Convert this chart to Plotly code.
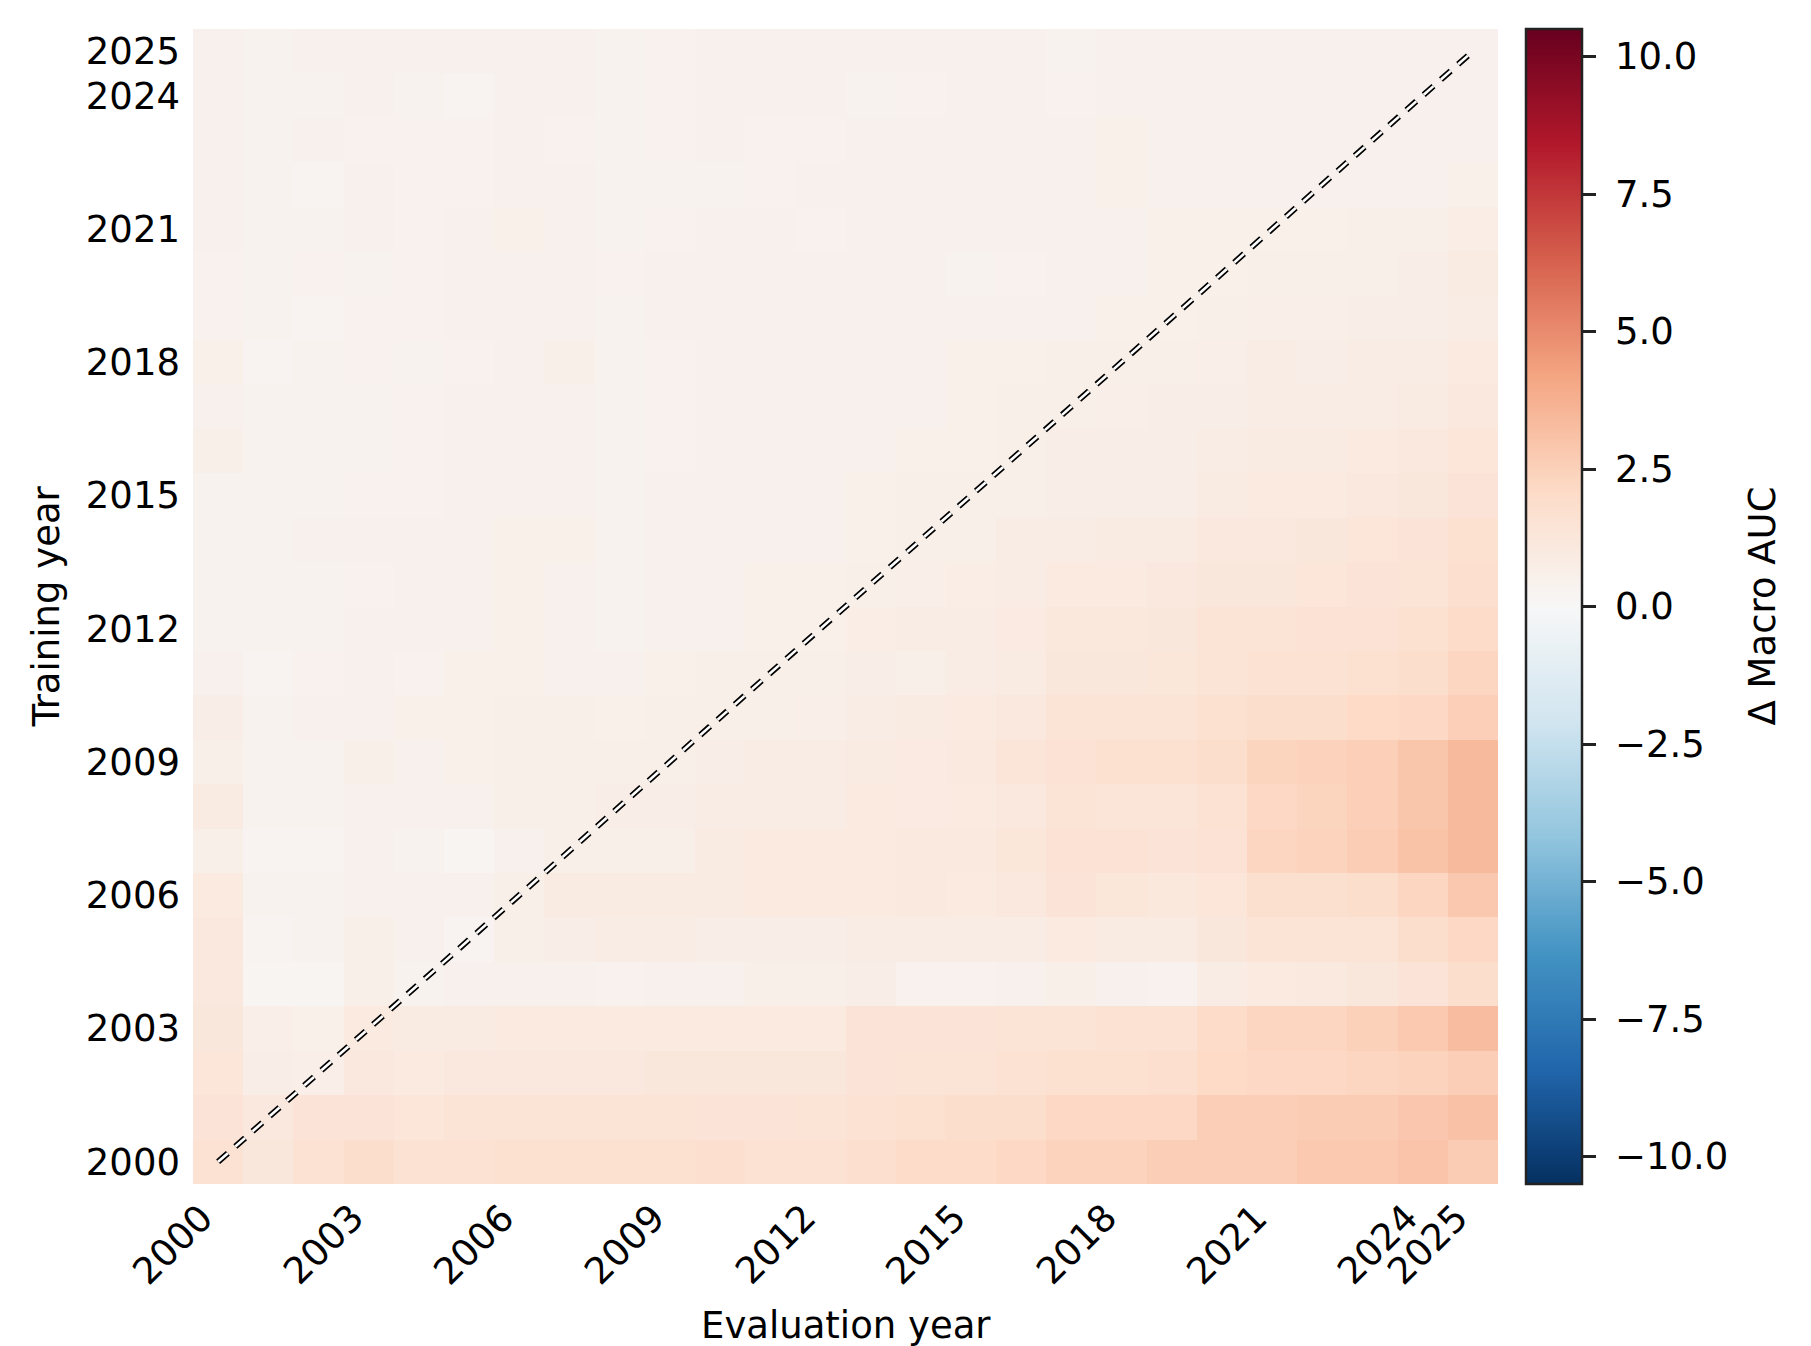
import plotly.graph_objects as go

# Training years (rows, bottom -> top) and evaluation years (columns, left -> right)
train_years = list(range(2000, 2026))
eval_years = list(range(2000, 2026))
tick_years = [2000, 2003, 2006, 2009, 2012, 2015, 2018, 2021, 2024, 2025]
cbar_ticks = [-10, -7.5, -5, -2.5, 0, 2.5, 5, 7.5, 10]
cbar_labels = ["−10.0", "−7.5", "−5.0", "−2.5", "0.0", "2.5", "5.0", "7.5", "10.0"]

# Delta macro AUC, one row per training year (2000 ... 2025), columns = evaluation years 2000 ... 2025
row_2000 = [1.6, 1.2, 1.6, 1.9, 1.6, 1.6, 1.65, 1.65, 1.7, 1.7, 1.8, 1.6, 1.6, 1.8, 2.0, 2.0, 2.2, 2.4, 2.4, 2.6, 2.6, 2.6, 2.8, 2.8, 3.0, 2.7]
row_2001 = [1.4, 1.1, 1.4, 1.4, 1.3, 1.45, 1.45, 1.45, 1.5, 1.5, 1.4, 1.4, 1.5, 1.6, 1.7, 1.9, 1.9, 2.2, 2.2, 2.2, 2.6, 2.6, 2.7, 2.7, 2.9, 3.1]
row_2002 = [1.3, 0.7, 0.65, 1.1, 1.0, 1.1, 1.1, 1.1, 1.1, 1.2, 1.2, 1.2, 1.2, 1.4, 1.5, 1.5, 1.6, 1.7, 1.7, 1.8, 2.1, 2.2, 2.2, 2.3, 2.4, 2.6]
row_2003 = [1.2, 0.65, 0.55, 1.0, 0.9, 0.9, 1.0, 1.0, 1.0, 1.0, 1.0, 1.0, 1.0, 1.4, 1.4, 1.4, 1.5, 1.5, 1.6, 1.6, 2.0, 2.3, 2.3, 2.5, 2.8, 3.3]
row_2004 = [1.1, 0.25, 0.25, 0.6, 0.4, 0.5, 0.5, 0.5, 0.45, 0.5, 0.5, 0.6, 0.6, 0.7, 0.45, 0.45, 0.5, 0.6, 0.5, 0.45, 0.85, 1.0, 1.05, 1.2, 1.4, 1.9]
row_2005 = [1.1, 0.3, 0.35, 0.6, 0.5, 0.3, 0.6, 0.7, 0.8, 0.8, 0.7, 0.7, 0.7, 0.85, 0.85, 0.8, 0.85, 1.0, 0.9, 0.9, 1.2, 1.45, 1.45, 1.5, 1.85, 2.2]
row_2006 = [1.0, 0.35, 0.4, 0.5, 0.5, 0.5, 0.6, 0.9, 0.9, 0.9, 0.9, 1.0, 1.0, 1.0, 1.05, 1.0, 1.1, 1.4, 1.25, 1.15, 1.3, 1.75, 1.75, 1.9, 2.3, 2.85]
row_2007 = [0.6, 0.3, 0.3, 0.5, 0.4, 0.2, 0.5, 0.6, 0.6, 0.6, 0.9, 1.0, 1.0, 1.0, 1.05, 1.05, 1.25, 1.55, 1.55, 1.4, 1.55, 2.3, 2.4, 2.65, 3.05, 3.4]
row_2008 = [0.9, 0.35, 0.35, 0.5, 0.5, 0.5, 0.6, 0.6, 0.7, 0.7, 0.8, 0.8, 0.8, 1.0, 0.95, 1.0, 1.1, 1.5, 1.35, 1.35, 1.6, 2.2, 2.35, 2.55, 2.95, 3.4]
row_2009 = [0.6, 0.4, 0.4, 0.6, 0.5, 0.55, 0.6, 0.6, 0.6, 0.6, 0.7, 0.8, 0.8, 0.9, 0.95, 1.05, 1.35, 1.55, 1.65, 1.65, 1.9, 2.35, 2.45, 2.55, 2.95, 3.4]
row_2010 = [0.7, 0.4, 0.5, 0.5, 0.55, 0.55, 0.6, 0.6, 0.55, 0.6, 0.6, 0.6, 0.65, 0.8, 0.9, 1.0, 1.1, 1.5, 1.5, 1.5, 1.7, 1.85, 1.9, 2.1, 2.2, 2.55]
row_2011 = [0.5, 0.3, 0.45, 0.5, 0.45, 0.55, 0.55, 0.5, 0.5, 0.55, 0.6, 0.6, 0.6, 0.7, 0.6, 0.8, 0.9, 1.2, 1.2, 1.25, 1.45, 1.6, 1.6, 1.65, 1.9, 2.3]
row_2012 = [0.4, 0.4, 0.35, 0.5, 0.5, 0.5, 0.55, 0.5, 0.4, 0.5, 0.5, 0.55, 0.55, 0.75, 0.8, 0.8, 0.95, 1.15, 1.15, 1.2, 1.45, 1.5, 1.55, 1.55, 1.7, 1.95]
row_2013 = [0.4, 0.35, 0.35, 0.45, 0.5, 0.5, 0.55, 0.5, 0.4, 0.5, 0.5, 0.55, 0.55, 0.6, 0.65, 0.75, 0.8, 1.0, 1.0, 1.1, 1.2, 1.2, 1.3, 1.4, 1.5, 1.8]
row_2014 = [0.4, 0.35, 0.5, 0.5, 0.5, 0.5, 0.55, 0.55, 0.4, 0.5, 0.5, 0.5, 0.5, 0.55, 0.6, 0.6, 0.8, 0.8, 0.9, 0.9, 1.1, 1.1, 1.2, 1.3, 1.4, 1.7]
row_2015 = [0.4, 0.35, 0.4, 0.45, 0.45, 0.5, 0.5, 0.5, 0.4, 0.5, 0.5, 0.5, 0.5, 0.55, 0.6, 0.6, 0.6, 0.7, 0.7, 0.7, 0.9, 1.0, 1.0, 1.1, 1.2, 1.4]
row_2016 = [0.6, 0.35, 0.4, 0.4, 0.45, 0.5, 0.5, 0.5, 0.4, 0.45, 0.5, 0.5, 0.5, 0.5, 0.55, 0.55, 0.6, 0.7, 0.7, 0.7, 0.8, 0.9, 0.9, 1.0, 1.1, 1.3]
row_2017 = [0.5, 0.35, 0.4, 0.4, 0.45, 0.5, 0.5, 0.5, 0.4, 0.45, 0.5, 0.5, 0.5, 0.5, 0.5, 0.55, 0.6, 0.6, 0.65, 0.7, 0.7, 0.8, 0.8, 0.8, 0.9, 1.1]
row_2018 = [0.55, 0.3, 0.35, 0.45, 0.4, 0.45, 0.5, 0.6, 0.4, 0.45, 0.5, 0.5, 0.5, 0.5, 0.5, 0.55, 0.55, 0.6, 0.6, 0.6, 0.65, 0.8, 0.7, 0.8, 0.8, 1.0]
row_2019 = [0.45, 0.35, 0.3, 0.45, 0.45, 0.5, 0.5, 0.5, 0.4, 0.5, 0.5, 0.5, 0.5, 0.5, 0.5, 0.5, 0.5, 0.5, 0.55, 0.55, 0.6, 0.65, 0.65, 0.7, 0.7, 0.8]
row_2020 = [0.45, 0.35, 0.45, 0.35, 0.45, 0.5, 0.5, 0.5, 0.45, 0.5, 0.5, 0.5, 0.5, 0.5, 0.5, 0.35, 0.45, 0.5, 0.5, 0.55, 0.55, 0.6, 0.6, 0.6, 0.7, 0.9]
row_2021 = [0.5, 0.35, 0.4, 0.5, 0.45, 0.5, 0.55, 0.5, 0.35, 0.45, 0.5, 0.5, 0.45, 0.5, 0.5, 0.5, 0.5, 0.5, 0.5, 0.55, 0.55, 0.55, 0.55, 0.6, 0.6, 0.75]
row_2022 = [0.5, 0.4, 0.3, 0.5, 0.45, 0.45, 0.5, 0.5, 0.35, 0.4, 0.35, 0.45, 0.5, 0.5, 0.5, 0.5, 0.5, 0.5, 0.55, 0.5, 0.5, 0.5, 0.5, 0.5, 0.5, 0.55]
row_2023 = [0.5, 0.4, 0.5, 0.45, 0.45, 0.45, 0.5, 0.45, 0.4, 0.45, 0.5, 0.45, 0.45, 0.5, 0.5, 0.5, 0.5, 0.5, 0.55, 0.5, 0.5, 0.5, 0.5, 0.5, 0.5, 0.5]
row_2024 = [0.5, 0.4, 0.4, 0.5, 0.4, 0.3, 0.5, 0.5, 0.4, 0.45, 0.5, 0.5, 0.5, 0.4, 0.45, 0.5, 0.5, 0.45, 0.5, 0.5, 0.5, 0.5, 0.5, 0.5, 0.5, 0.5]
row_2025 = [0.5, 0.4, 0.5, 0.5, 0.5, 0.5, 0.5, 0.5, 0.4, 0.45, 0.5, 0.5, 0.5, 0.5, 0.5, 0.5, 0.5, 0.35, 0.5, 0.5, 0.5, 0.5, 0.5, 0.5, 0.5, 0.5]

delta_auc = [row_2000, row_2001, row_2002, row_2003, row_2004, row_2005, row_2006,
             row_2007, row_2008, row_2009, row_2010, row_2011, row_2012, row_2013,
             row_2014, row_2015, row_2016, row_2017, row_2018, row_2019, row_2020,
             row_2021, row_2022, row_2023, row_2024, row_2025]

# matplotlib RdBu_r
rdbu_r = [
    [0.0, "#053061"], [0.1, "#2166ac"], [0.2, "#4393c3"], [0.3, "#92c5de"],
    [0.4, "#d1e5f0"], [0.5, "#f7f7f7"], [0.6, "#fddbc7"], [0.7, "#f4a582"],
    [0.8, "#d6604d"], [0.9, "#b2182b"], [1.0, "#67001f"],
]

FONT = "DejaVu Sans"
FS = 37

W, H = 1811, 1346
L, R, T, B = 193, 313, 29, 162
plot_w = W - L - R
plot_h = H - T - B

fig = go.Figure()
fig.add_trace(go.Heatmap(
    x=eval_years, y=train_years, z=delta_auc,
    colorscale=rdbu_r, zmin=-10.5, zmax=10.5,
    xgap=0, ygap=0,
    colorbar=dict(
        x=(1526 - L) / plot_w, xanchor="left", xpad=0,
        y=0.5, yanchor="middle", len=1.0, lenmode="fraction", ypad=0,
        thickness=56, outlinewidth=2.5, outlinecolor="#222222",
        tickmode="array", tickvals=cbar_ticks, ticktext=[" " + t for t in cbar_labels],
        ticks="outside", ticklen=13, tickwidth=2.5, tickcolor="#222222",
        tickfont=dict(family=FONT, size=FS, color="black"),
    ),
))

diag = [eval_years[0], eval_years[-1]]
fig.add_trace(go.Scatter(
    x=diag, y=diag, mode="lines",
    line=dict(color="black", width=6, dash="13px,10px"),
    hoverinfo="skip", showlegend=False,
))
fig.add_trace(go.Scatter(
    x=diag, y=diag, mode="lines",
    line=dict(color="white", width=2.6, dash="13px,10px"),
    hoverinfo="skip", showlegend=False,
))

fig.update_xaxes(
    range=[1999.5, 2025.5], tickmode="array", tickvals=tick_years,
    showticklabels=False,
    ticks="", showgrid=False, zeroline=False, showline=False,
)
fig.update_yaxes(
    range=[1999.5, 2025.5], tickmode="array", tickvals=tick_years,
    ticktext=[str(v) for v in tick_years],
    ticks="", showgrid=False, zeroline=False, showline=False,
    tickfont=dict(family=FONT, size=FS, color="black"), ticklabelstandoff=12,
)

# rotated x tick labels, right-aligned at each tick (matplotlib style)
for yr in tick_years:
    fig.add_annotation(text=str(yr), xref="x", yref="paper", x=yr, y=0,
                       xanchor="right", yanchor="top", textangle=-45,
                       xshift=5, yshift=-11, showarrow=False, borderpad=0,
                       font=dict(family=FONT, size=FS, color="black"))

fig.add_annotation(text="Evaluation year", xref="paper", yref="paper",
                   x=0.5, y=-(1325 - (H - B)) / plot_h, xanchor="center", yanchor="middle",
                   showarrow=False, font=dict(family=FONT, size=FS, color="black"))
fig.add_annotation(text="Training year", xref="paper", yref="paper",
                   x=(46 - L) / plot_w, y=0.5, xanchor="center", yanchor="middle",
                   textangle=-90, showarrow=False,
                   font=dict(family=FONT, size=FS, color="black"))
fig.add_annotation(text="Δ Macro AUC", xref="paper", yref="paper",
                   x=(1762 - L) / plot_w, y=0.5, xanchor="center", yanchor="middle",
                   textangle=-90, showarrow=False,
                   font=dict(family=FONT, size=FS, color="black"))

fig.update_layout(
    width=W, height=H,
    margin=dict(l=L, r=R, t=T, b=B, autoexpand=False),
    paper_bgcolor="white", plot_bgcolor="white",
    font=dict(family=FONT, size=FS, color="black"),
    showlegend=False,
)

fig.write_html("out.html")
